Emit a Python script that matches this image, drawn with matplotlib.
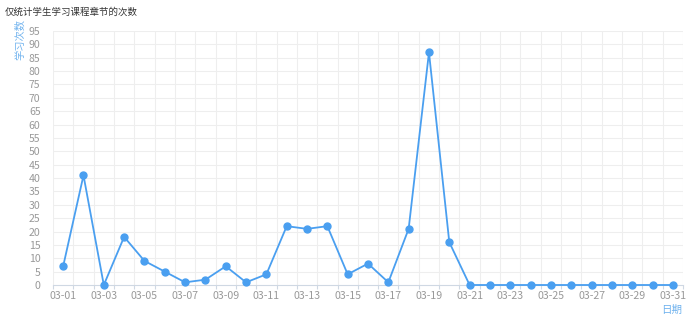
import numpy as np
import matplotlib
matplotlib.use("Agg")
import matplotlib.pyplot as plt

plt.rcParams['font.family'] = ['Noto Sans CJK SC', 'DejaVu Sans']

dates = ["03-%02d" % d for d in range(1, 32)]
counts = [7, 41, 0, 18, 9, 5, 1, 2, 7, 1, 4, 22, 21, 22, 4, 8, 1, 21, 87, 16,
          0, 0, 0, 0, 0, 0, 0, 0, 0, 0, 0]

title = "仅统计学生学习课程章节的次数"
y_name = "学习次数"
x_name = "日期"

line_color = "#4a9ff0"
name_color = "#6fb2ee"
tick_color = "#999999"
grid_color = "#eeeeee"

fig = plt.figure(figsize=(6.93, 3.2), dpi=100)
ax = fig.add_axes([53 / 693, 1 - 285 / 320, 630 / 693, 254 / 320])

x = np.arange(len(dates))
ax.plot(x, counts, color=line_color, lw=1.3, marker="o", ms=5, zorder=3, clip_on=False)

ax.set_xlim(-0.5, len(dates) - 0.5)
ax.set_ylim(0, 95)
ax.set_yticks(np.arange(0, 96, 5))
ax.set_xticks(x[::2])
ax.set_xticklabels(dates[::2])
ax.set_xticks(np.arange(-0.5, len(dates), 1), minor=True)

for v in np.arange(5, 96, 5):
    ax.axhline(v, color=grid_color, lw=0.8, zorder=0)
for b in np.arange(-0.5, len(dates), 1):
    ax.axvline(b, color=grid_color, lw=0.8, zorder=0)

for s in ["top", "right", "left"]:
    ax.spines[s].set_visible(False)
ax.spines["bottom"].set_color("#cfd8e3")
ax.spines["bottom"].set_linewidth(0.8)

ax.tick_params(axis="y", length=0, labelsize=7.6, labelcolor=tick_color, pad=9)
ax.tick_params(axis="x", which="major", length=0, labelsize=7.6, labelcolor=tick_color, pad=4)
ax.tick_params(axis="x", which="minor", length=3, color="#cfd8e3", width=0.8)

fig.text(5 / 693, 1 - 12 / 320, title, fontsize=6.8, color="#333333", va="center", ha="left")
fig.text(20 / 693, 1 - 39 / 320, y_name, fontsize=7.4, color=name_color, rotation=90,
         va="center", ha="center")
fig.text(672 / 693, 1 - 310 / 320, x_name, fontsize=7.6, color=name_color, va="center", ha="center")

fig.savefig("out.png", dpi=100)
